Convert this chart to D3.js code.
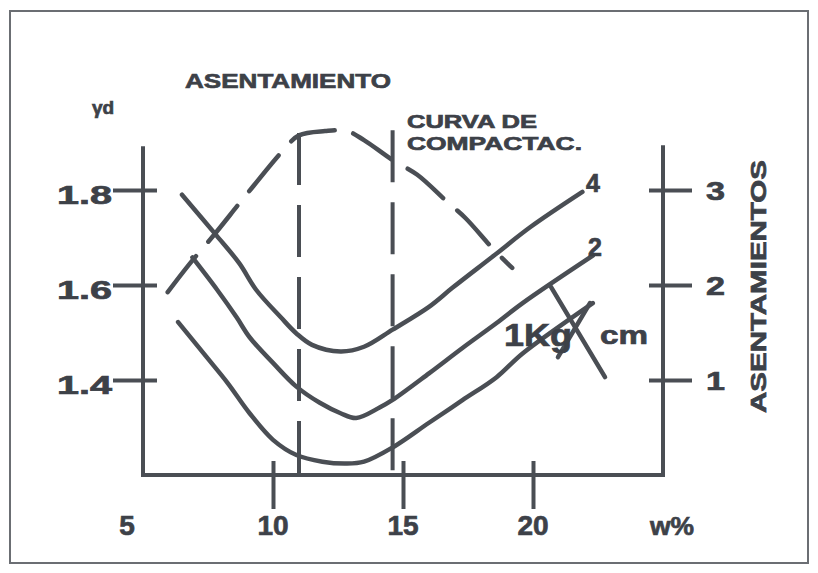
<!DOCTYPE html>
<html><head><meta charset="utf-8">
<script src="https://cdn.jsdelivr.net/npm/d3@7"></script>
<style>
body{margin:0;background:#fff}
svg{display:block}
text{font-family:"Liberation Sans",Arial,sans-serif;font-weight:bold;fill:#3d4148;stroke:#3d4148;stroke-width:0.7px}
</style>
</head><body>
<svg id="c" width="818" height="573"></svg>
<script>
// ---- data ----
const xTickValues = [10, 15, 20];
const xLabelValues = [5, 10, 15, 20];
const xLabels = ["5", "10", "15", "20"];
const yLeftTicks = [1.4, 1.6, 1.8];
const yLeftLabels = ["1.4", "1.6", "1.8"];
const yRightTicks = [1, 2, 3];
const yRightLabels = ["1", "2", "3"];

// settlement curves (w %, asentamiento)
const curve1W = [6.5, 7.8, 8.7, 9.35, 10.3, 10.9, 11.5, 12.6, 13.5, 14.6, 16.0, 16.9, 18.5, 19.9, 21.9];
const curve1S = [2.95, 2.53, 2.23, 1.95, 1.66, 1.49, 1.37, 1.30, 1.35, 1.53, 1.77, 1.97, 2.31, 2.61, 2.98];
const curve2W = [6.9, 7.85, 8.6, 9.1, 10.0, 10.9, 11.8, 12.6, 13.2, 14.1, 14.6, 16.0, 17.3, 18.6, 19.6, 22.3];
const curve2S = [2.29, 1.95, 1.66, 1.45, 1.18, 0.93, 0.76, 0.65, 0.60, 0.71, 0.79, 1.07, 1.34, 1.60, 1.81, 2.31];
const curve3W = [6.35, 7.45, 8.25, 9.1, 10.0, 10.9, 11.9, 12.8, 13.5, 14.6, 16.0, 17.3, 18.6, 19.6, 22.3];
const curve3S = [1.61, 1.24, 0.97, 0.65, 0.37, 0.21, 0.14, 0.12, 0.14, 0.29, 0.55, 0.79, 1.03, 1.28, 1.81];
const curveLabels = ["4", "2", "1Kg"];

// compaction curve (w %, gamma d)
const compW = [5.95, 6.8, 7.8, 8.9, 10.4, 11.0, 12.0, 12.85, 13.5, 14.6, 15.55, 16.7, 17.4, 18.5, 19.2];
const compG = [1.585, 1.645, 1.71, 1.785, 1.884, 1.915, 1.924, 1.924, 1.905, 1.863, 1.832, 1.775, 1.741, 1.674, 1.636];

// vertical reference lines (w %) and their top (gamma d)
const vLineW = [11.0, 14.6];
const vLineTop = [1.92, 1.926];

// crossing strokes (w %, asentamiento)
const crossW = [20.69, 22.77];
const crossS = [1.98, 1.03];
const slashW = [20.96, 22.19];
const slashS = [1.24, 1.81];

// ---- drawing ----
const ink = "#4a4e54";
const svg = d3.select("#c");
svg.append("rect").attr("width", 818).attr("height", 573).attr("fill", "#fff");
svg.append("rect").attr("x", 10).attr("y", 11).attr("width", 798).attr("height", 552)
  .attr("fill", "none").attr("stroke", "#6b6e73").attr("stroke-width", 2);

const x = d3.scaleLinear().domain([5, 25]).range([143, 663]);
const yL = d3.scaleLinear().domain([1.2, 1.9]).range([475, 142.5]);
const yR = d3.scaleLinear().domain([0, 3.5]).range([475, 142.5]);

// axis lines
const axes = svg.append("g").attr("stroke", ink).attr("stroke-width", 4).attr("stroke-linecap", "square");
axes.append("line").attr("x1", x(5)).attr("x2", x(5)).attr("y1", yL(1.2)).attr("y2", yL(1.888));
axes.append("line").attr("x1", x(25)).attr("x2", x(25)).attr("y1", yL(1.2)).attr("y2", yR(3.45));
axes.append("line").attr("x1", x(5)).attr("x2", x(25)).attr("y1", yL(1.2)).attr("y2", yL(1.2));

// left axis
const gL = svg.append("g").attr("transform", `translate(${x(5)},0)`)
  .call(d3.axisLeft(yL).tickValues(yLeftTicks).tickFormat((d, i) => yLeftLabels[i])
    .tickSizeInner(30).tickSizeOuter(0).tickPadding(1));
gL.select(".domain").remove();
gL.selectAll(".tick line").attr("x1", 14).attr("x2", -30).attr("stroke", ink).attr("stroke-width", 4);
gL.selectAll(".tick text").attr("font-size", 26).attr("dy", "0.5em")
  .attr("textLength", 55).attr("lengthAdjust", "spacingAndGlyphs");

// right axis
const gR = svg.append("g").attr("transform", `translate(${x(25)},0)`)
  .call(d3.axisRight(yR).tickValues(yRightTicks).tickFormat((d, i) => yRightLabels[i])
    .tickSizeInner(29).tickSizeOuter(0).tickPadding(14));
gR.select(".domain").remove();
gR.selectAll(".tick line").attr("x1", -14).attr("x2", 29).attr("stroke", ink).attr("stroke-width", 4);
gR.selectAll(".tick text").attr("font-size", 26).attr("dy", "0.38em")
  .attr("textLength", 19).attr("lengthAdjust", "spacingAndGlyphs");

// bottom axis ticks
const gB = svg.append("g").attr("transform", `translate(0,${yL(1.2)})`)
  .call(d3.axisBottom(x).tickValues(xTickValues).tickFormat("").tickSizeInner(34).tickSizeOuter(0));
gB.select(".domain").remove();
gB.selectAll(".tick line").attr("y1", -14).attr("y2", 34).attr("stroke", ink).attr("stroke-width", 4);

svg.append("g").selectAll("text").data(xLabelValues).join("text")
  .attr("x", d => x(d)).attr("dx", d => d === 5 ? -16 : 0).attr("y", 535)
  .attr("text-anchor", "middle").attr("font-size", 28)
  .text((d, i) => xLabels[i]);
svg.append("text").attr("x", x(25) + 9).attr("y", 535).attr("text-anchor", "middle")
  .attr("font-size", 26).attr("textLength", 44).attr("lengthAdjust", "spacingAndGlyphs").text("w%");

// vertical dashed lines
svg.append("g").selectAll("line").data(vLineW).join("line")
  .attr("x1", d => x(d)).attr("x2", d => x(d))
  .attr("y1", (d, i) => yL(vLineTop[i])).attr("y2", yL(1.2))
  .attr("stroke", ink).attr("stroke-width", 4).attr("stroke-dasharray", "52,20");

const lineR = d3.line().x(d => x(d[0])).y(d => yR(d[1])).curve(d3.curveCatmullRom.alpha(0.5));
const lineL = d3.line().x(d => x(d[0])).y(d => yL(d[1])).curve(d3.curveCatmullRom.alpha(0.5));
const zip = (a, b) => a.map((v, i) => [v, b[i]]);

// compaction curve
svg.append("path").attr("d", lineL(zip(compW, compG)))
  .attr("fill", "none").attr("stroke", ink).attr("stroke-width", 4.5)
  .attr("stroke-dasharray", "46,19").attr("stroke-linecap", "round");

// settlement curves
[[curve1W, curve1S], [curve2W, curve2S], [curve3W, curve3S]].forEach(([w, s]) => {
  svg.append("path").attr("d", lineR(zip(w, s)))
    .attr("fill", "none").attr("stroke", ink).attr("stroke-width", 4.5).attr("stroke-linecap", "round");
});

// crossing strokes
[[crossW, crossS], [slashW, slashS]].forEach(([w, s]) => {
  svg.append("path").attr("d", d3.line().x(d => x(d[0])).y(d => yR(d[1]))(zip(w, s)))
    .attr("fill", "none").attr("stroke", ink).attr("stroke-width", 4.5).attr("stroke-linecap", "round");
});

// curve labels
svg.append("text").attr("x", 586).attr("y", 192).attr("font-size", 25).text(curveLabels[0]);
svg.append("text").attr("x", 588).attr("y", 256).attr("font-size", 25).text(curveLabels[1]);
svg.append("text").attr("x", 504).attr("y", 346).attr("font-size", 32)
  .attr("textLength", 68).attr("lengthAdjust", "spacingAndGlyphs").text(curveLabels[2]);
svg.append("text").attr("x", 600).attr("y", 344).attr("font-size", 26)
  .attr("textLength", 48).attr("lengthAdjust", "spacingAndGlyphs").text("cm");

// titles
svg.append("text").attr("x", 185).attr("y", 88).attr("font-size", 21)
  .attr("textLength", 206).attr("lengthAdjust", "spacingAndGlyphs").text("ASENTAMIENTO");
svg.append("text").attr("x", 92).attr("y", 114).attr("font-size", 19).text("γd");
svg.append("text").attr("x", 407).attr("y", 128).attr("font-size", 19)
  .attr("textLength", 130).attr("lengthAdjust", "spacingAndGlyphs").text("CURVA  DE");
svg.append("text").attr("x", 407).attr("y", 150).attr("font-size", 19)
  .attr("textLength", 175).attr("lengthAdjust", "spacingAndGlyphs").text("COMPACTAC.");
svg.append("text").attr("transform", `translate(766,${(160 + 413) / 2}) rotate(-90)`)
  .attr("text-anchor", "middle").attr("font-size", 22)
  .attr("textLength", 253).attr("lengthAdjust", "spacingAndGlyphs").text("ASENTAMIENTOS");
</script>
</body></html>
